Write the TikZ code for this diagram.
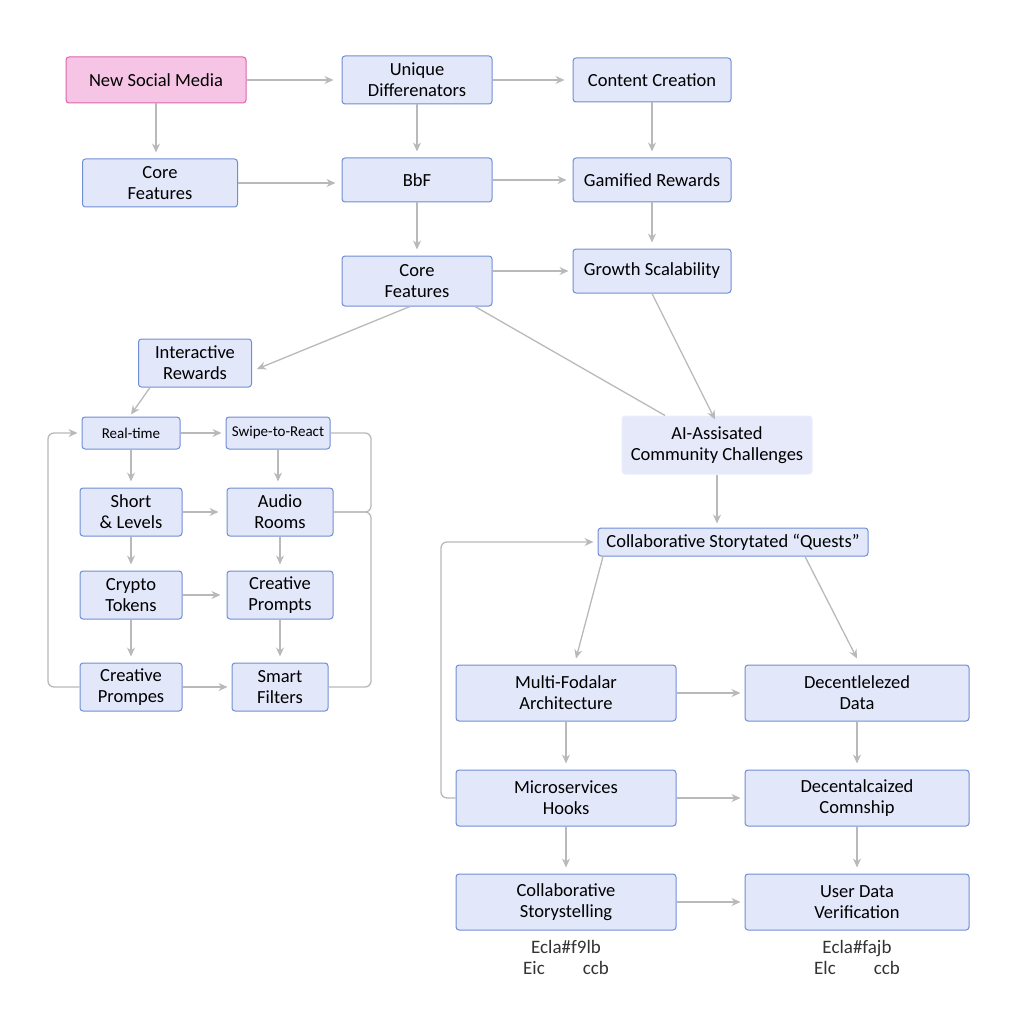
\documentclass[tikz,border=0pt]{standalone}
\usepackage{fontspec}
\setmainfont{Carlito}
\usetikzlibrary{arrows.meta}
\definecolor{bfill}{RGB}{226,231,250}
\definecolor{bdraw}{RGB}{112,142,212}
\definecolor{pfill}{RGB}{246,196,228}
\definecolor{pdraw}{RGB}{222,100,170}
\definecolor{edge}{RGB}{185,185,185}
\begin{document}
\begin{tikzpicture}[x=1pt,y=-1pt,
  box/.style={draw=bdraw,fill=bfill,rounded corners=3pt,line width=1pt,align=center,inner sep=0pt,font=\fontsize{18.5}{21}\selectfont},
  sbox/.style={box,font=\fontsize{15}{17}\selectfont},
  pbox/.style={box,draw=pdraw,fill=pfill},
  lbox/.style={box,draw=bfill!70!white,fill=bfill!90!white},
  arr/.style={draw=edge,line width=1.3pt,-{Stealth[length=9pt,width=8pt]}},
  ln/.style={draw=edge,line width=1.3pt,rounded corners=6pt},
  note/.style={align=center,font=\fontsize{19}{21}\selectfont,text=black!80}]
\useasboundingbox (0,0) rectangle (1024,1024);
\node[pbox,minimum width=180pt,minimum height=46pt] (nsm) at (156,80) {New Social Media};
\node[box,minimum width=150pt,minimum height=48pt] (ud) at (417,80) {Unique\\Differenators};
\node[box,minimum width=158pt,minimum height=44pt] (cc) at (652,80) {Content Creation};
\node[box,minimum width=155pt,minimum height=48pt] (cf1) at (160,183) {Core\\Features};
\node[box,minimum width=150pt,minimum height=44pt] (bbf) at (417,180) {BbF};
\node[box,minimum width=158pt,minimum height=44pt] (gr) at (652,180) {Gamified Rewards};
\node[box,minimum width=150pt,minimum height=50pt] (cf2) at (417,281) {Core\\Features};
\node[box,minimum width=158pt,minimum height=44pt] (gs) at (652,271) {Growth Scalability};
\node[box,minimum width=113pt,minimum height=48pt] (ir) at (195,363) {Interactive\\Rewards};
\node[sbox,minimum width=98pt,minimum height=32pt] (rt) at (131,433) {Real-time};
\node[sbox,minimum width=104pt,minimum height=32pt] (sr) at (278,433) {Swipe-to-React};
\node[box,minimum width=102pt,minimum height=48pt] (sl) at (131,512) {Short\\\& Levels};
\node[box,minimum width=106pt,minimum height=48pt] (ar) at (280,512) {Audio\\Rooms};
\node[box,minimum width=102pt,minimum height=48pt] (ct) at (131,595) {Crypto\\Tokens};
\node[box,minimum width=106pt,minimum height=48pt] (cp) at (280,595) {Creative\\Prompts};
\node[box,minimum width=102pt,minimum height=48pt] (cpe) at (131,687) {Creative\\Prompes};
\node[box,minimum width=96pt,minimum height=48pt] (sf) at (280,687) {Smart\\Filters};
\node[lbox,minimum width=190pt,minimum height=58pt] (ai) at (717,445) {AI-Assisated\\Community Challenges};
\node[box,minimum width=270pt,minimum height=28pt] (csq) at (733,542) {Collaborative Storytated “Quests”};
\node[box,minimum width=220pt,minimum height=56pt] (mfa) at (566,693) {Multi-Fodalar\\Architecture};
\node[box,minimum width=224pt,minimum height=56pt] (dd) at (857,693) {Decentlelezed\\Data};
\node[box,minimum width=220pt,minimum height=56pt] (mh) at (566,798) {Microservices\\Hooks};
\node[box,minimum width=224pt,minimum height=56pt] (dc) at (857,798) {Decentalcaized\\Comnship};
\node[box,minimum width=220pt,minimum height=56pt] (cs) at (566,902) {Collaborative\\Storystelling};
\node[box,minimum width=224pt,minimum height=56pt] (udv) at (857,902) {User Data\\Verification};
\node[note] (n1) at (566,957) {Ecla\#f9lb\\Eic\hspace{2em}ccb};
\node[note] (n2) at (857,957) {Ecla\#fajb\\Elc\hspace{2em}ccb};
\coordinate (j1) at (371,433);
\coordinate (j2) at (371,512);
\coordinate (l1) at (48,687);
\coordinate (l2) at (441,798);
% top
\draw[arr] (nsm.east) -- ([xshift=-8pt]ud.west);
\draw[arr] (ud.east) -- ([xshift=-8pt]cc.west);
\draw[arr] (nsm.south) -- ([yshift=6pt]nsm.south |- cf1.north);
\draw[arr] (ud.south) -- ([yshift=6pt]bbf.north);
\draw[arr] (cc.south) -- ([yshift=6pt]gr.north);
\draw[arr] (cf1.east) -- ([xshift=-6pt]bbf.west |- cf1.east);
\draw[arr] (bbf.east) -- ([xshift=-6pt]gr.west);
\draw[arr] (bbf.south) -- ([yshift=6pt]cf2.north);
\draw[arr] (gr.south) -- ([yshift=6pt]gs.north);
\draw[arr] (cf2.east |- gs.west) -- ([xshift=-4pt]gs.west);
\draw[arr] ([xshift=-7pt]cf2.south) -- ([xshift=5pt,yshift=-6pt]ir.east);
\draw[ln] ([xshift=58pt]cf2.south) -- ([xshift=-52pt]ai.north);
\draw[arr] ([yshift=0pt]gs.south) -- ([xshift=-2pt,yshift=-4pt]ai.north);
\draw[arr] ([xshift=-45pt]ir.south) -- ([yshift=2pt]rt.north);
% left cluster
\draw[arr] (rt.east) -- ([xshift=-4pt]sr.west);
\draw[arr] (rt.south) -- ([yshift=6pt]sl.north);
\draw[arr] (sr.south) -- ([yshift=6pt]sr.south |- ar.north);
\draw[arr] (sl.east) -- ([xshift=-8pt]ar.west);
\draw[arr] (sl.south) -- ([yshift=6pt]ct.north);
\draw[arr] (ar.south) -- ([yshift=6pt]cp.north);
\draw[arr] (ct.east) -- ([xshift=-6pt]cp.west);
\draw[arr] (ct.south) -- ([yshift=6pt]cpe.north);
\draw[arr] (cp.south) -- ([yshift=6pt]cp.south |- sf.north);
\draw[arr] (cpe.east) -- ([xshift=-4pt]sf.west);
\draw[ln] (sr.east) -- (j1) -- (j2) -- (ar.east);
\draw[ln] (ar.east) -- (j2) -- (j2 |- sf.east) -- (sf.east);
\draw[ln,-{Stealth[length=9pt,width=8pt]}] (cpe.west) -- (l1) -- (l1 |- rt.west) -- ([xshift=-4pt]rt.west);
% right
\draw[arr] (ai.south) -- ([yshift=4pt]ai.south |- csq.north);
\draw[arr] ([xshift=-130pt]csq.south) -- ([xshift=10pt,yshift=6pt]mfa.north);
\draw[arr] ([xshift=72pt]csq.south) -- ([yshift=6pt]dd.north);
\draw[arr] (mfa.east) -- ([xshift=-4pt]dd.west);
\draw[arr] (mfa.south) -- ([yshift=6pt]mh.north);
\draw[arr] (dd.south) -- ([yshift=6pt]dc.north);
\draw[arr] (mh.east) -- ([xshift=-4pt]dc.west);
\draw[arr] (mh.south) -- ([yshift=6pt]cs.north);
\draw[arr] (dc.south) -- ([yshift=6pt]udv.north);
\draw[arr] (cs.east) -- ([xshift=-4pt]udv.west);
\draw[ln,-{Stealth[length=9pt,width=8pt]}] (mh.west) -- (l2) -- (l2 |- csq.west) -- ([xshift=-4pt]csq.west);
\end{tikzpicture}
\end{document}
